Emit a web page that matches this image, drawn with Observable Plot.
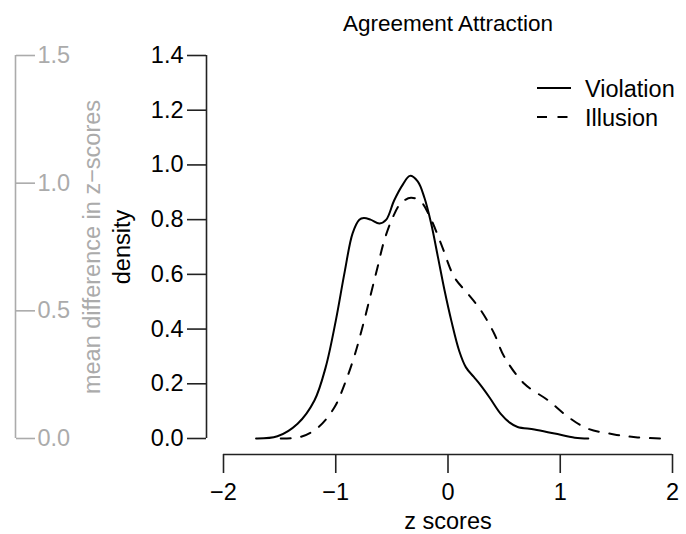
<!DOCTYPE html>
<html>
<head>
<meta charset="utf-8">
<script src="https://cdn.jsdelivr.net/npm/d3@7"></script>
<script src="https://cdn.jsdelivr.net/npm/@observablehq/plot@0.6"></script>
<style>
  body { margin: 0; background: #fff; }
  #chart { position: relative; width: 686px; height: 534px; font-family: "Liberation Sans", Helvetica, Arial, sans-serif; }
  #chart > svg { position: absolute; left: 0; top: 0; }
</style>
</head>
<body>
<div id="chart"></div>
<script>
// Kernel density estimates of z scores, one curve per condition
const violationZ = [-1.71, -1.52, -1.34, -1.19, -1.09, -1.0, -0.92, -0.85, -0.79, -0.75, -0.69, -0.61, -0.55, -0.48, -0.40, -0.34, -0.27, -0.21, -0.15, -0.09, -0.03, 0.03, 0.10, 0.16, 0.23, 0.29, 0.37, 0.47, 0.55, 0.62, 0.77, 0.95, 1.13, 1.25];
const violationDensity = [0, 0.008, 0.054, 0.139, 0.26, 0.43, 0.61, 0.75, 0.80, 0.806, 0.80, 0.786, 0.80, 0.87, 0.93, 0.96, 0.94, 0.88, 0.786, 0.664, 0.54, 0.43, 0.32, 0.26, 0.225, 0.195, 0.15, 0.09, 0.058, 0.042, 0.033, 0.018, 0.003, 0];

const illusionZ = [-1.49, -1.31, -1.15, -1.01, -0.92, -0.835, -0.76, -0.686, -0.627, -0.567, -0.49, -0.42, -0.33, -0.24, -0.15, -0.06, 0.056, 0.175, 0.29, 0.41, 0.50, 0.68, 0.89, 1.07, 1.245, 1.48, 1.69, 1.90];
const illusionDensity = [0, 0.006, 0.043, 0.115, 0.20, 0.30, 0.41, 0.53, 0.627, 0.725, 0.81, 0.86, 0.88, 0.865, 0.80, 0.71, 0.59, 0.53, 0.47, 0.385, 0.30, 0.20, 0.14, 0.079, 0.036, 0.015, 0.004, 0];

const xTicks = [-2, -1, 0, 1, 2];
const densityTicks = [0, 0.2, 0.4, 0.6, 0.8, 1.0, 1.2, 1.4];
const meanDiffTicks = [0, 0.5, 1.0, 1.5];

const seriesNames = ["Violation", "Illusion"];
const titleText = "Agreement Attraction";

const violation = violationZ.map((z, i) => ({z, density: violationDensity[i]}));
const illusion = illusionZ.map((z, i) => ({z, density: illusionDensity[i]}));

const FONT = '"Liberation Sans", Helvetica, Arial, sans-serif';
const AXIS = "#222";
const GREY = "#ababab";
const DASH = "10,10.5";

const container = document.getElementById("chart");

// Main panel: density curves on detached R-style axes
const main = Plot.plot({
  width: 686,
  height: 534,
  marginLeft: 223,
  marginRight: 14,
  marginTop: 55,
  marginBottom: 96,
  style: {fontFamily: FONT, fontSize: "23.5px", background: "transparent", color: "#000", overflow: "visible"},
  x: {domain: [xTicks[0], xTicks[xTicks.length - 1]]},
  y: {domain: [densityTicks[0], densityTicks[densityTicks.length - 1]]},
  marks: [
    // y axis (offset to the left of the data region)
    Plot.ruleX([xTicks[0]], {y1: densityTicks[0], y2: densityTicks[densityTicks.length - 1], dx: -17, stroke: AXIS, strokeWidth: 1.6}),
    Plot.axisY({ticks: densityTicks, tickFormat: d3.format(".1f"), tickSize: 19, tickPadding: 4, dx: -17, label: null, stroke: AXIS, strokeWidth: 1.6, fill: "#000"}),
    // x axis (offset below the data region)
    Plot.ruleY([densityTicks[0]], {x1: xTicks[0], x2: xTicks[xTicks.length - 1], dy: 16, stroke: AXIS, strokeWidth: 1.6}),
    Plot.axisX({ticks: xTicks, tickFormat: d3.format("d"), tickSize: 19, tickPadding: 10, dy: 16, label: null, stroke: AXIS, strokeWidth: 1.6, fill: "#000"}),
    Plot.text(["z scores"], {frameAnchor: "bottom", textAnchor: "middle", lineAnchor: "middle", dy: 82.5, fill: "#000"}),
    Plot.text(["density"], {frameAnchor: "left", textAnchor: "middle", lineAnchor: "middle", rotate: -90, dx: -101, fill: "#000"}),
    Plot.text([titleText], {frameAnchor: "top", textAnchor: "middle", lineAnchor: "middle", dy: -32, fontSize: 22.5, fill: "#000"}),
    // density curves
    Plot.line(violation, {x: "z", y: "density", curve: "catmull-rom", stroke: "#000", strokeWidth: 2}),
    Plot.line(illusion, {x: "z", y: "density", curve: "catmull-rom", stroke: "#000", strokeWidth: 2, strokeDasharray: DASH})
  ]
});
container.appendChild(main);

// Secondary grey axis: mean difference in z-scores
const side = Plot.plot({
  width: 686,
  height: 534,
  marginLeft: 0,
  marginRight: 671,
  marginTop: 55,
  marginBottom: 96,
  style: {fontFamily: FONT, fontSize: "23.5px", background: "transparent", color: GREY, overflow: "visible", pointerEvents: "none"},
  x: {domain: [0, 1], axis: null},
  y: {domain: [meanDiffTicks[0], meanDiffTicks[meanDiffTicks.length - 1]]},
  marks: [
    Plot.ruleX([1], {y1: meanDiffTicks[0], y2: meanDiffTicks[meanDiffTicks.length - 1], stroke: GREY, strokeWidth: 1.6}),
    Plot.axisY({anchor: "right", ticks: meanDiffTicks, tickFormat: d3.format(".1f"), tickSize: 19, tickPadding: 3, label: null, stroke: GREY, strokeWidth: 1.6, fill: GREY}),
    Plot.text(["mean difference in z\u2212scores"], {frameAnchor: "right", textAnchor: "middle", lineAnchor: "middle", rotate: -90, dx: 77, fill: GREY})
  ]
});
container.appendChild(side);

// Legend
const legend = d3.create("svg")
  .attr("width", 686)
  .attr("height", 534)
  .style("overflow", "visible")
  .style("pointer-events", "none");
const legendDash = [null, DASH];
seriesNames.forEach((name, i) => {
  const y = 88 + i * 29;
  legend.append("line")
    .attr("x1", 537).attr("x2", 571)
    .attr("y1", y).attr("y2", y)
    .attr("stroke", "#000").attr("stroke-width", 2)
    .attr("stroke-dasharray", legendDash[i]);
  legend.append("text")
    .attr("x", 585).attr("y", y + 8.5)
    .attr("font-family", FONT).attr("font-size", 23.5)
    .attr("fill", "#000")
    .text(name);
});
container.appendChild(legend.node());
</script>
</body>
</html>
